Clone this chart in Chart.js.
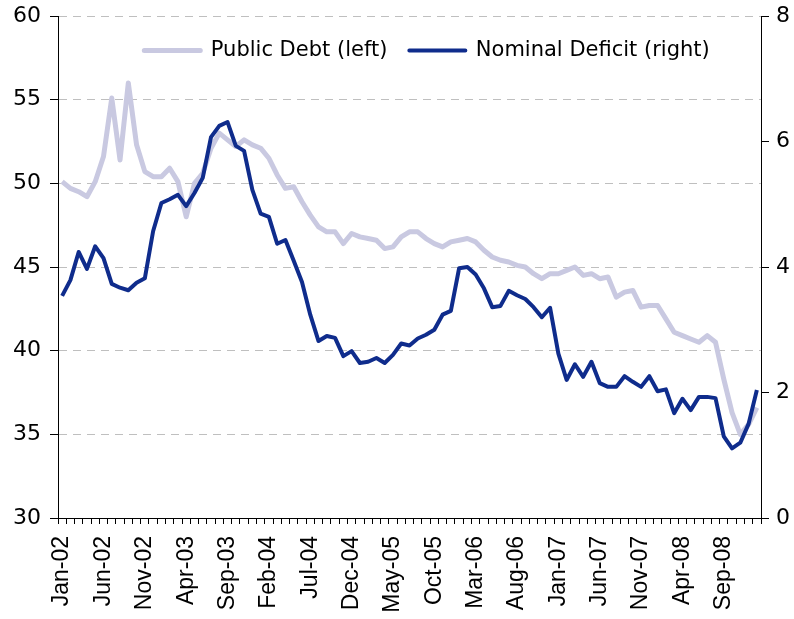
<!DOCTYPE html>
<html>
<head>
<meta charset="utf-8">
<script src="https://cdn.jsdelivr.net/npm/chart.js@4"></script>
<style>
  html, body { margin: 0; padding: 0; background: #fff; }
  #wrap { width: 794px; height: 619px; }
</style>
</head>
<body>
<div id="wrap"><canvas id="chart"></canvas></div>
<script>
// monthly series, Jan-02 .. Jan-09
const monthNames = ['Jan', 'Feb', 'Mar', 'Apr', 'May', 'Jun', 'Jul', 'Aug', 'Sep', 'Oct', 'Nov', 'Dec'];
const years = ['02', '03', '04', '05', '06', '07', '08', '09'];

// public debt, % of GDP (left axis)
const publicDebt = [
  50.1, 49.7, 49.5, 49.2, 50.1, 51.6, 55.1, 51.4, 56.0, 52.3, 50.7, 50.4,
  50.4, 50.9, 50.1, 48.0, 50.0, 50.6, 52.1, 53.0, 52.6, 52.2, 52.6, 52.3,
  52.1, 51.5, 50.5, 49.7, 49.8, 48.9, 48.1, 47.4, 47.1, 47.1, 46.4, 47.0,
  46.8, 46.7, 46.6, 46.1, 46.2, 46.8, 47.1, 47.1, 46.7, 46.4, 46.2, 46.5,
  46.6, 46.7, 46.5, 46.0, 45.6, 45.4, 45.3, 45.1, 45.0, 44.6, 44.3, 44.6,
  44.6, 44.8, 45.0, 44.5, 44.6, 44.3, 44.4, 43.2, 43.5, 43.6, 42.6, 42.7,
  42.7, 41.9, 41.1, 40.9, 40.7, 40.5, 40.9, 40.5, 38.3, 36.3, 35.0, 35.6,
  36.6
];

// nominal deficit, % of GDP (right axis)
const nominalDeficit = [
  3.54, 3.79, 4.24, 3.97, 4.33, 4.14, 3.73, 3.67, 3.63, 3.75, 3.82, 4.57,
  5.02, 5.08, 5.15, 4.97, 5.18, 5.42, 6.07, 6.25, 6.31, 5.93, 5.85, 5.23,
  4.85, 4.80, 4.37, 4.43, 4.10, 3.76, 3.24, 2.82, 2.90, 2.87, 2.58, 2.66,
  2.47, 2.49, 2.55, 2.47, 2.60, 2.78, 2.75, 2.86, 2.92, 3.00, 3.24, 3.30,
  3.98, 4.00, 3.88, 3.66, 3.36, 3.38, 3.62, 3.55, 3.49, 3.36, 3.20, 3.35,
  2.62, 2.20, 2.45, 2.25, 2.49, 2.15, 2.09, 2.09, 2.26, 2.17, 2.09, 2.26,
  2.02, 2.05, 1.67, 1.90, 1.72, 1.93, 1.93, 1.91, 1.30, 1.11, 1.20, 1.50,
  2.04
];

const labels = [];
for (const y of years) {
  for (const m of monthNames) {
    if (labels.length < publicDebt.length) labels.push(m + '-' + y);
  }
}

// legend takes no layout space and is drawn floating inside the plot
const floatingLegend = {
  id: 'floatingLegend',
  afterInit(chart) {
    const legend = chart.legend;
    if (!legend) return;
    const fit = legend.fit;
    const draw = legend.draw;
    legend.fit = function () {
      fit.call(this);
      this._fullHeight = this.height;
      this.height = 0;
    };
    legend.draw = function () {
      const saved = { top: this.top, bottom: this.bottom, height: this.height, left: this.left, right: this.right };
      this.top = chart.chartArea.top + 2;
      this.height = this._fullHeight;
      this.bottom = this.top + this.height;
      this.left = saved.left + 30;
      this.right = saved.right + 30;
      draw.call(this);
      Object.assign(this, saved);
    };
  }
};

// drop the extra space Chart.js reserves around axis end labels
const noScalePadding = (scale) => {
  scale.paddingTop = 0;
  scale.paddingBottom = 0;
  scale.paddingLeft = 0;
  scale.paddingRight = 0;
};

const ctx = document.getElementById('chart').getContext('2d');

const chart = new Chart(ctx, {
  type: 'line',
  data: {
    labels: labels,
    datasets: [{
      label: 'Public Debt (left)',
      data: publicDebt,
      yAxisID: 'yLeft',
      borderColor: '#c9c9e1',
      backgroundColor: '#c9c9e1',
      borderWidth: 5,
      pointRadius: 0,
      tension: 0,
      borderJoinStyle: 'round',
      order: 1
    }, {
      label: 'Nominal Deficit (right)',
      data: nominalDeficit,
      yAxisID: 'yRight',
      borderColor: '#0f2c8c',
      backgroundColor: '#0f2c8c',
      borderWidth: 4,
      pointRadius: 0,
      tension: 0,
      borderJoinStyle: 'round',
      order: 0
    }]
  },
  plugins: [floatingLegend],
  options: {
    responsive: true,
    maintainAspectRatio: false,
    animation: false,
    layout: { padding: { top: 16, left: 0, right: 0, bottom: 0 } },
    plugins: {
      tooltip: { enabled: false },
      legend: {
        position: 'top',
        align: 'center',
        labels: {
          boxWidth: 56,
          boxHeight: 0,
          padding: 22,
          color: '#000',
          font: { family: 'DejaVu Sans', size: 21 },
          sort: (a, b) => a.datasetIndex - b.datasetIndex
        }
      }
    },
    scales: {
      x: {
        type: 'category',
        offset: true,
        grid: {
          display: true,
          drawOnChartArea: false,
          offset: true,
          tickLength: 6,
          tickColor: '#000',
          color: '#000'
        },
        border: { color: '#000', width: 1 },
        ticks: {
          autoSkip: false,
          maxRotation: 90,
          minRotation: 90,
          padding: 12,
          color: '#000',
          font: { family: 'Liberation Sans', size: 23 },
          callback: function (value, index) {
            return index % 5 === 0 ? this.getLabelForValue(value) : '';
          }
        },
        afterFit: (scale) => { noScalePadding(scale); scale.height = 101; }
      },
      yLeft: {
        position: 'left',
        min: 30,
        max: 60,
        grid: {
          color: '#bfbfbf',
          tickColor: '#000',
          tickLength: 8
        },
        border: { color: '#000', width: 1, dash: [8, 6] },
        ticks: {
          stepSize: 5,
          padding: 9,
          color: '#000',
          font: { family: 'DejaVu Sans', size: 22 }
        },
        afterFit: (scale) => { noScalePadding(scale); scale.width = 58; }
      },
      yRight: {
        position: 'right',
        min: 0,
        max: 8,
        grid: {
          drawOnChartArea: false,
          tickColor: '#000',
          tickLength: 8
        },
        border: { color: '#000', width: 1 },
        ticks: {
          stepSize: 2,
          padding: 7,
          color: '#000',
          font: { family: 'DejaVu Sans', size: 22 }
        },
        afterFit: (scale) => { noScalePadding(scale); scale.width = 33; }
      }
    }
  }
});
</script>
</body>
</html>
